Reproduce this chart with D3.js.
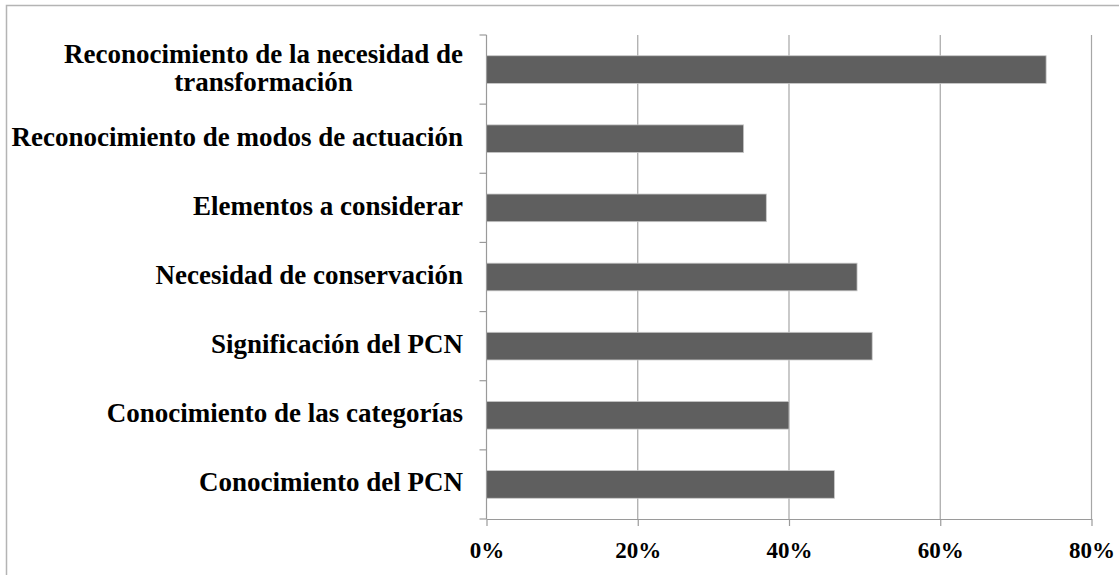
<!DOCTYPE html>
<html>
  <head>
    <meta charset="utf-8">
    <title>Bar chart</title>
    <script type="text/javascript" src="https://d3js.org/d3.v7.min.js"></script>
    <style>
      body { margin: 0; background: #fff; }
    </style>
  </head>

  <body>
    <script>

    var categories = [
      "Reconocimiento de la necesidad de transformación",
      "Reconocimiento de modos de actuación",
      "Elementos a considerar",
      "Necesidad de conservación",
      "Significación del PCN",
      "Conocimiento de las categorías",
      "Conocimiento del PCN"
    ];
    var values = [74, 34, 37, 49, 51, 40, 46];      // percent
    var tickValues = [0, 20, 40, 60, 80];

    var width = 1119, height = 575;
    var plotLeft = 486.5, plotRight = 1091.5, plotTop = 35, plotBottom = 519;
    var fontFamily = "'Liberation Serif', 'Times New Roman', serif";

    var svg = d3.select('body')
                .append('svg')
                .attr("width", width)
                .attr("height", height);

    // outer frame (right and bottom edges fall outside the picture)
    svg.append("rect")
       .attr("x", 6.5).attr("y", 5.5)
       .attr("width", width + 10).attr("height", height + 10)
       .attr("fill", "none")
       .attr("stroke", "#b4b4b4")
       .attr("stroke-width", 1.5);

    var x = d3.scaleLinear()
              .domain([0, 80])
              .range([plotLeft, plotRight]);

    var y = d3.scaleBand()
              .domain(categories)
              .range([plotTop, plotBottom])
              .paddingInner(0.6)
              .paddingOuter(0.3);

    // vertical gridlines
    svg.append("g")
       .selectAll("line")
       .data(tickValues.slice(1))
       .enter()
         .append("line")
         .attr("x1", function(d) { return x(d); })
         .attr("x2", function(d) { return x(d); })
         .attr("y1", plotTop)
         .attr("y2", plotBottom)
         .attr("stroke", "#a6a6a6")
         .attr("stroke-width", 1.2);

    // bars
    svg.append("g")
       .selectAll("rect")
       .data(values)
       .enter()
         .append("rect")
         .attr("x", x(0))
         .attr("y", function(d, i) { return y(categories[i]); })
         .attr("width", function(d) { return x(d) - x(0); })
         .attr("height", y.bandwidth())
         .attr("fill", "#5f5f5f")
         .attr("stroke", "#c8c8c8")
         .attr("stroke-width", 0.8);

    // y axis line and ticks at the category boundaries
    var yAxis = svg.append("g").attr("stroke", "#9a9a9a").attr("stroke-width", 1.2);
    yAxis.append("line")
         .attr("x1", plotLeft).attr("x2", plotLeft)
         .attr("y1", plotTop).attr("y2", plotBottom);
    var step = y.step();
    yAxis.selectAll("line.tick")
         .data(d3.range(categories.length + 1))
         .enter()
           .append("line")
           .attr("class", "tick")
           .attr("x1", plotLeft - 7).attr("x2", plotLeft)
           .attr("y1", function(i) { return plotTop + i * step; })
           .attr("y2", function(i) { return plotTop + i * step; });

    // x axis
    var axis = d3.axisBottom(x)
                 .tickValues(tickValues)
                 .tickSize(7)
                 .tickSizeOuter(0)
                 .tickFormat(function(d) { return d + "%"; });

    var xg = svg.append("g")
                .attr("transform", "translate(0," + plotBottom + ")")
                .call(axis);
    xg.select(".domain").attr("stroke", "#9a9a9a").attr("stroke-width", 1.2);
    xg.selectAll(".tick line").attr("stroke", "#9a9a9a").attr("stroke-width", 1.2);
    xg.selectAll(".tick text")
      .attr("dy", "0")
      .attr("y", 38.5)
      .attr("fill", "#000")
      .style("font-family", fontFamily)
      .style("font-weight", "bold")
      .style("font-size", "23px");

    // category labels, wrapped and centred as a block ending at x = 463
    var labelRight = 463, maxWidth = 470, lineHeight = 28;
    var labels = svg.append("g")
                    .style("font-family", fontFamily)
                    .style("font-weight", "bold")
                    .style("font-size", "27px")
                    .attr("fill", "#000");

    categories.forEach(function(name, i) {
      var t = labels.append("text").attr("text-anchor", "middle");
      var words = name.split(" "), lines = [], cur = [];
      var probe = t.append("tspan");
      words.forEach(function(w) {
        var test = cur.concat([w]).join(" ");
        probe.text(test);
        if (probe.node().getComputedTextLength() > maxWidth && cur.length) {
          lines.push(cur.join(" "));
          cur = [w];
        } else {
          cur.push(w);
        }
      });
      lines.push(cur.join(" "));
      probe.remove();

      var widths = lines.map(function(l) {
        var s = t.append("tspan").text(l);
        var w = s.node().getComputedTextLength();
        s.remove();
        return w;
      });
      var blockW = d3.max(widths);
      var cx = labelRight - blockW / 2;
      var cy = y(name) + y.bandwidth() / 2;
      lines.forEach(function(l, k) {
        t.append("tspan")
         .attr("x", cx)
         .attr("y", cy + 7 + (k - (lines.length - 1) / 2) * lineHeight)
         .text(l);
      });
    });

  </script>
  </body>
</html>
